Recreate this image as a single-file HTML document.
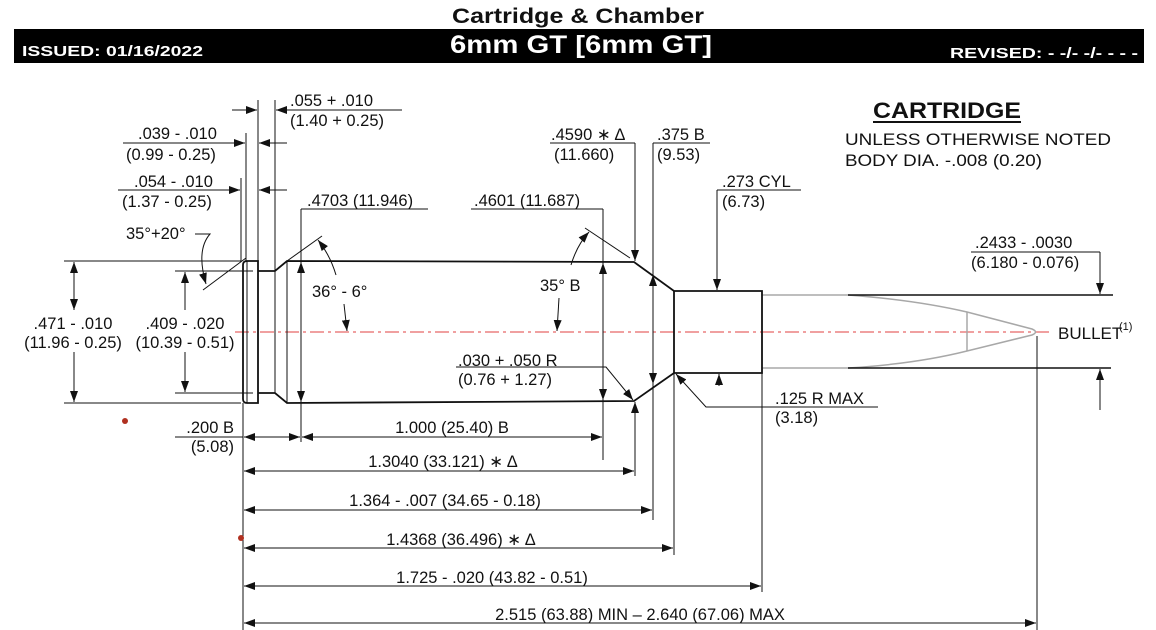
<!DOCTYPE html>
<html><head><meta charset="utf-8"><style>
html,body{margin:0;padding:0;background:#fff;width:1156px;height:630px;overflow:hidden}
svg{display:block}
text{font-family:"Liberation Sans",sans-serif;font-size:16.5px;fill:#111}
.l{stroke:#111;stroke-width:1;fill:none}
.k{stroke:#111;stroke-width:1.8;fill:none}
.g{stroke:#a8a8a8;stroke-width:1.5;fill:none}
.a{marker-end:url(#ar)}
.aa{marker-start:url(#ar);marker-end:url(#ar)}
</style></head><body>
<svg width="1156" height="630" viewBox="0 0 1156 630" xmlns="http://www.w3.org/2000/svg">
<defs>
<marker id="ar" markerUnits="userSpaceOnUse" markerWidth="11" markerHeight="8" refX="11" refY="4" orient="auto-start-reverse"><path d="M0,0 L11,4 L0,8 z" fill="#111"/></marker>
</defs>
<text x="578" y="23" text-anchor="middle" style="font-size:21px;font-weight:bold" textLength="252" lengthAdjust="spacingAndGlyphs">Cartridge &amp; Chamber</text>
<rect x="14" y="29" width="1130" height="34" fill="#000"/>
<text x="22" y="56" style="font-size:15px;font-weight:bold;fill:#fff" textLength="181" lengthAdjust="spacingAndGlyphs">ISSUED:  01/16/2022</text>
<text x="581" y="53" text-anchor="middle" style="font-size:25px;font-weight:bold;fill:#fff" textLength="262" lengthAdjust="spacingAndGlyphs">6mm GT [6mm GT]</text>
<text x="1138" y="58" text-anchor="end" style="font-size:15px;font-weight:bold;fill:#fff" textLength="188" lengthAdjust="spacingAndGlyphs">REVISED:  - -/- -/- - - -</text>

<text x="873" y="118" style="font-size:22px;font-weight:bold" textLength="148" lengthAdjust="spacingAndGlyphs">CARTRIDGE</text>
<line x1="873" y1="122" x2="1021" y2="122" stroke="#111" stroke-width="2"/>
<text x="845" y="145" style="font-size:17px" textLength="266" lengthAdjust="spacingAndGlyphs">UNLESS OTHERWISE NOTED</text>
<text x="845" y="166" style="font-size:17px" textLength="197" lengthAdjust="spacingAndGlyphs">BODY DIA. -.008 (0.20)</text>

<line x1="235" y1="332" x2="1052" y2="332" stroke="#e04040" stroke-width="1" stroke-dasharray="14,4,3,4"/>
<text x="1058" y="339" style="font-size:17px">BULLET</text><text x="1119" y="330" style="font-size:11px">(1)</text>

<path class="g" d="M762,295 L848,295 Q915,300 967,312 L1032,329 Q1039,332 1032,335 L967,351 Q915,364 848,368 L762,368"/>
<line class="g" x1="967" y1="312" x2="967" y2="351"/>
<line class="k" x1="848" y1="295" x2="1113" y2="295" style="stroke-width:1.5"/>
<line class="k" x1="848" y1="368" x2="1111" y2="368" style="stroke-width:1.5"/>

<path class="k" d="M258,261 L247,261 Q243,261 243,265 L243,399 Q243,403 247,403 L258,403 Z"/>
<line class="l" x1="247" y1="261" x2="247" y2="403"/>
<path class="k" d="M258,271 L275,271 L287,261 L634,262 L674,291 L762,291 L762,373 L674,373 L634,401 L287,403 L275,393 L258,393"/>
<line class="l" x1="275" y1="271" x2="275" y2="393"/>
<line class="l" x1="287" y1="261" x2="287" y2="403"/>
<line class="k" x1="674" y1="291" x2="674" y2="373"/>

<line class="l" x1="64" y1="261" x2="241" y2="261"/>
<line class="l" x1="64" y1="403" x2="241" y2="403"/>
<line class="l aa" x1="74" y1="262" x2="74" y2="310"/>
<line class="l a" x1="74" y1="352" x2="74" y2="402"/>
<text x="73" y="329" text-anchor="middle">.471 - .010</text>
<text x="73" y="348" text-anchor="middle">(11.96 - 0.25)</text>
<line class="l" x1="175" y1="271" x2="253" y2="271"/>
<line class="l" x1="175" y1="393" x2="253" y2="393"/>
<line class="l a" x1="185" y1="310" x2="185" y2="272"/>
<line class="l a" x1="185" y1="352" x2="185" y2="392"/>
<text x="185" y="329" text-anchor="middle">.409 - .020</text>
<text x="185" y="348" text-anchor="middle">(10.39 - 0.51)</text>

<line class="l" x1="241" y1="178" x2="241" y2="261"/>
<line class="l" x1="246" y1="133" x2="246" y2="261"/>
<line class="l" x1="258" y1="100" x2="258" y2="261"/>
<line class="l" x1="275" y1="100" x2="275" y2="271"/>
<line class="l a" x1="232" y1="110" x2="257" y2="110"/>
<line class="l a" x1="402" y1="110" x2="276" y2="110"/>
<text x="290" y="106">.055 + .010</text>
<text x="290" y="126">(1.40 + 0.25)</text>
<line class="l a" x1="123" y1="143" x2="245" y2="143"/>
<line class="l a" x1="287" y1="143" x2="259" y2="143"/>
<text x="138" y="139">.039 - .010</text>
<text x="126" y="160">(0.99 - 0.25)</text>
<line class="l a" x1="118" y1="190" x2="240" y2="190"/>
<line class="l a" x1="287" y1="190" x2="259" y2="190"/>
<text x="134" y="187">.054 - .010</text>
<text x="122" y="207">(1.37 - 0.25)</text>

<text x="126" y="239">35°+20°</text>
<path class="l a" d="M195,234 L210,234 Q196,250 206,284"/>
<line class="l" x1="203" y1="290" x2="246" y2="258"/>

<line class="l" x1="301" y1="209" x2="428" y2="209"/>
<text x="307" y="206">.4703 (11.946)</text>
<line class="l" x1="301" y1="209" x2="301" y2="442"/>
<line class="l aa" x1="301" y1="262" x2="301" y2="402"/>
<line class="l" x1="287" y1="261" x2="322" y2="236"/>
<text x="312" y="297">36° - 6°</text>
<path class="l a" d="M336,275 Q330,255 318,240"/>
<line class="l a" x1="344" y1="304" x2="347" y2="331"/>

<line class="l" x1="471" y1="209" x2="603" y2="209"/>
<text x="474" y="206">.4601 (11.687)</text>
<line class="l" x1="603" y1="209" x2="603" y2="460"/>
<line class="l aa" x1="603" y1="263" x2="603" y2="400"/>
<line class="l" x1="585" y1="228" x2="630" y2="258"/>
<text x="540" y="291">35° B</text>
<path class="l a" d="M571,265 Q577,245 589,232"/>
<line class="l a" x1="559" y1="298" x2="557" y2="331"/>

<line class="l" x1="550" y1="143" x2="635" y2="143"/>
<text x="551" y="140">.4590 ∗ Δ</text>
<text x="554" y="160">(11.660)</text>
<line class="l a" x1="635" y1="143" x2="635" y2="261"/>
<line class="l a" x1="635" y1="476" x2="635" y2="402"/>
<line class="l" x1="653" y1="143" x2="710" y2="143"/>
<text x="657" y="140">.375 B</text>
<text x="657" y="160">(9.53)</text>
<line class="l" x1="653" y1="143" x2="653" y2="520"/>
<line class="l aa" x1="653" y1="275" x2="653" y2="384"/>
<line class="l" x1="717" y1="190" x2="801" y2="190"/>
<text x="722" y="187">.273 CYL</text>
<text x="722" y="207">(6.73)</text>
<line class="l a" x1="717" y1="190" x2="717" y2="290"/>
<line class="l a" x1="719" y1="386" x2="719" y2="374"/>
<text x="458" y="366">.030 + .050 R</text>
<text x="458" y="385">(0.76 + 1.27)</text>
<path class="l a" d="M456,367 L606,367 L633,400"/>
<text x="775" y="404">.125 R MAX</text>
<text x="775" y="423">(3.18)</text>
<path class="l a" d="M878,407 L706,407 L676,374"/>
<text x="975" y="248">.2433 - .0030</text>
<text x="971" y="268">(6.180 - 0.076)</text>
<line class="l" x1="971" y1="252" x2="1100" y2="252"/>
<line class="l a" x1="1100" y1="252" x2="1100" y2="294"/>
<line class="l a" x1="1100" y1="410" x2="1100" y2="369"/>

<line class="l" x1="243" y1="403" x2="243" y2="630"/>
<line class="l" x1="674" y1="373" x2="674" y2="555"/>
<line class="l" x1="762" y1="373" x2="762" y2="592"/>
<line class="l" x1="1037" y1="336" x2="1037" y2="630"/>

<line class="l" x1="175" y1="437" x2="243" y2="437"/>
<text x="234" y="433" text-anchor="end">.200 B</text>
<text x="234" y="452" text-anchor="end">(5.08)</text>
<line class="l aa" x1="244" y1="437" x2="300" y2="437"/>
<line class="l aa" x1="302" y1="437" x2="602" y2="437"/>
<text x="452" y="433" text-anchor="middle">1.000 (25.40) B</text>
<line class="l aa" x1="244" y1="471" x2="634" y2="471"/>
<text x="443" y="467" text-anchor="middle">1.3040 (33.121) ∗ Δ</text>
<line class="l aa" x1="244" y1="510" x2="652" y2="510"/>
<text x="445" y="506" text-anchor="middle">1.364 - .007 (34.65 - 0.18)</text>
<line class="l aa" x1="244" y1="548" x2="673" y2="548"/>
<text x="461" y="545" text-anchor="middle">1.4368 (36.496) ∗ Δ</text>
<line class="l aa" x1="244" y1="586" x2="761" y2="586"/>
<text x="492" y="583" text-anchor="middle">1.725 - .020 (43.82 - 0.51)</text>
<line class="l aa" x1="244" y1="623" x2="1036" y2="623"/>
<text x="640" y="620" text-anchor="middle">2.515 (63.88) MIN – 2.640 (67.06) MAX</text>

<circle cx="125" cy="421" r="3" fill="#b03020"/>
<circle cx="241" cy="538" r="3" fill="#b03020"/>
</svg>
</body></html>
